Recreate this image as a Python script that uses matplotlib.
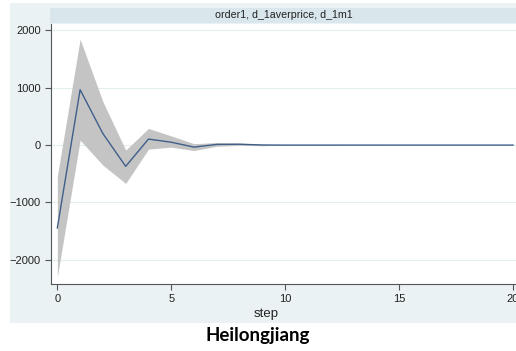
import matplotlib.pyplot as plt
import matplotlib.patches as patches

steps = list(range(21))
irf = [-1443, 965, 200, -370, 105, 50, -35, 12, 15, 2, 0,
       0, 0, 0, 0, 0, 0, 0, 0, 0, 0]
lower = [-2300, 87, -350, -668, -70, -35, -95, -20, -5, -10, -5,
         -3, -2, -1, -1, 0, 0, 0, 0, 0, 0]
upper = [-540, 1845, 756, -87, 291, 160, 25, 45, 35, 15, 5,
         3, 2, 1, 1, 0, 0, 0, 0, 0, 0]
yticks = [-2000, -1000, 0, 1000, 2000]
xticks = [0, 5, 10, 15, 20]
panel_title = "order1, d_1averprice, d_1m1"
caption = "Heilongjiang"

W, H = 516, 351
fig = plt.figure(figsize=(W / 100, H / 100), dpi=100)

# light blue background of the graph region
bg = patches.Rectangle((10 / W, (H - 323) / H), (W - 10) / W, 320 / H,
                       transform=fig.transFigure, facecolor='#eaf2f3',
                       edgecolor='none', zorder=0)
fig.patches.append(bg)

# strip header
strip = patches.Rectangle((50 / W, (H - 23) / H), (W - 50) / W, 15 / H,
                          transform=fig.transFigure, facecolor='#d9e6eb',
                          edgecolor='none', zorder=1)
fig.patches.append(strip)
fig.text(284 / W, (H - 15.5) / H, panel_title, ha='center', va='center',
         fontsize=7.7, family='Liberation Sans', color='#222222')

ax = fig.add_axes([50.5 / W, (H - 284) / H, (W - 50.5) / W, (284 - 24) / H])
ax.set_zorder(5)
ax.set_facecolor('white')
ax.fill_between(steps, lower, upper, color='#c4c4c4', linewidth=0, zorder=2)
ax.plot(steps, irf, color='#3f5f8a', linewidth=1.0, zorder=3)

ax.set_xlim(-0.3, 20.13)
ax.set_ylim(-2420, 2110)
ax.set_xticks(xticks)
ax.set_yticks(yticks)
ax.grid(axis='y', color='#e3edf0', linewidth=0.8, zorder=1)
ax.set_axisbelow(True)

for s in ['top', 'right']:
    ax.spines[s].set_visible(False)
for s in ['left', 'bottom']:
    ax.spines[s].set_color('#555555')
    ax.spines[s].set_linewidth(0.8)

ax.tick_params(direction='out', length=4, width=0.8, color='#555555',
               labelsize=8, pad=3, labelcolor='#222222')
for lab in ax.get_xticklabels() + ax.get_yticklabels():
    lab.set_family('Liberation Sans')

ax.set_xlabel('step', fontsize=9.5, family='Liberation Sans', color='#222222')
ax.xaxis.set_label_coords((266 - 50.5) / (W - 50.5), -30 / 260)
ax.xaxis.label.set_va('center')

fig.text(258 / W, (H - 335) / H, caption, ha='center', va='center',
         fontsize=13.5, fontweight='bold', family='Lato')

fig.savefig('out.png', dpi=100)
